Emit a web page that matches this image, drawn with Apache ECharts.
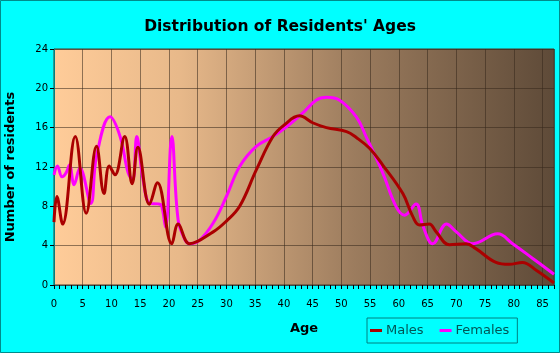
<!DOCTYPE html>
<html>
<head>
<meta charset="utf-8">
<script src="https://cdn.jsdelivr.net/npm/echarts@6/dist/echarts.min.js"></script>
<style>
  html, body { margin: 0; padding: 0; background: #00ffff; }
  #chart { width: 560px; height: 353px; }
</style>
</head>
<body>
<div id="chart"></div>
<script>
// values, [age, residents]
var maleAges = [0, 0.5, 1.5, 3.7, 5.6, 7.4, 8.7, 9.6, 10.6, 12.3, 13.6, 14.6, 16.6, 18, 20.5, 21.6, 23.6,
  27.7, 30, 32.3, 35.2, 38.1, 40.1, 42.7, 45, 47.4, 50.9, 52.6, 54.9, 57.2, 60.7, 62.4, 63.6, 65.3, 66.5,
  68.8, 71.7, 73.4, 76.9, 79.2, 81.5, 83.9, 87];
var males = [6.4, 9.0, 6.2, 15.1, 7.3, 14.1, 9.3, 12.1, 11.2, 15.1, 10.3, 14.0, 8.2, 10.4, 4.2, 6.2, 4.2,
  5.4, 6.5, 8.0, 11.7, 15.1, 16.3, 17.2, 16.5, 16.0, 15.6, 15.0, 13.9, 12.2, 9.3, 7.0, 6.1, 6.2, 5.4,
  4.1, 4.2, 3.7, 2.3, 2.1, 2.3, 1.5, 0.2];
var femaleAges = [0, 0.6, 1.4, 2.1, 2.7, 3.5, 4.5, 6.4, 7.4, 9.75, 11.5, 12.9, 13.7, 14.4, 15.5, 16.7, 18.1,
  18.7, 19.4, 20.5, 21.6, 22.8, 23.6, 25.4, 27.7, 30, 32.3, 35.2, 38.1, 40.4, 43.3, 45.6, 47.4, 49.7,
  52.6, 54.3, 57.2, 59.5, 61, 63, 64.2, 65.9, 68.3, 70, 72.9, 77.2, 79.8, 83.3, 87];
var females = [11.2, 12.1, 11.0, 11.4, 12.2, 10.2, 11.9, 8.3, 13.1, 17.1, 15.1, 11.4, 10.7, 15.1, 10.7, 8.3, 8.25,
  8.1, 5.9, 15.1, 6.6, 4.6, 4.2, 4.6, 6.3, 9.0, 12.05, 14.1, 15.1, 16.05, 17.5, 18.8, 19.1, 18.8,
  17.1, 15.1, 11.4, 8.0, 7.1, 8.25, 6.0, 4.2, 6.2, 5.4, 4.2, 5.2, 4.2, 2.7, 1.1];

function pairs(xs, ys) {
  return xs.map(function (x, i) { return [x, ys[i]]; });
}

var chart = echarts.init(document.getElementById('chart'));
var font = 'DejaVu Sans';
var gridColor = 'rgba(55,40,28,0.55)';

chart.setOption({
  backgroundColor: '#00ffff',
  animation: false,
  title: {
    text: "Distribution of Residents' Ages",
    left: 'center',
    top: 14,
    textStyle: { fontFamily: font, fontSize: 15.5, fontWeight: 'bold', color: '#000' }
  },
  legend: {
    left: 367,
    top: 318,
    padding: [6, 8, 6, 3],
    borderColor: '#008080',
    borderWidth: 1,
    itemGap: 16,
    itemWidth: 12,
    itemHeight: 3,
    icon: 'rect',
    textStyle: { fontFamily: font, fontSize: 13, color: '#005555', padding: [0, 0, 0, -1] },
    data: ['Males', 'Females']
  },
  grid: {
    left: 54, right: 6, top: 49, bottom: 68,
    outerBoundsMode: 'none',
    show: true,
    borderColor: '#4a3a2a',
    borderWidth: 1,
    backgroundColor: {
      type: 'linear', x: 0, y: 0, x2: 1, y2: 0,
      colorStops: [
        { offset: 0, color: '#ffcc99' },
        { offset: 0.25, color: '#e8b98a' },
        { offset: 0.6, color: '#9c7c5e' },
        { offset: 1, color: '#5e4a38' }
      ]
    }
  },
  xAxis: [{
    type: 'value', min: 0, max: 87, interval: 1,
    axisLine: { lineStyle: { color: '#2f4f4f' } },
    axisTick: { length: 4, lineStyle: { color: '#000' } },
    axisLabel: { show: false },
    splitLine: { show: false }
  }, {
    type: 'value', min: 0, max: 87, interval: 5, position: 'bottom',
    axisLine: { show: false },
    axisTick: { show: false },
    axisLabel: { fontFamily: font, fontSize: 10, color: '#000', margin: 14, showMaxLabel: false },
    splitLine: { lineStyle: { color: gridColor } },
    name: 'Age', nameLocation: 'middle', nameGap: 37,
    nameTextStyle: { fontFamily: font, fontSize: 13, fontWeight: 'bold', color: '#000' }
  }],
  yAxis: {
    type: 'value', min: 0, max: 24, interval: 4,
    axisLine: { show: true, lineStyle: { color: '#008080' } },
    axisTick: { show: true, length: 4, lineStyle: { color: '#000' } },
    axisLabel: { fontFamily: font, fontSize: 10, color: '#000', margin: 6 },
    splitLine: { lineStyle: { color: gridColor } },
    name: 'Number of residents', nameLocation: 'middle', nameGap: 37,
    nameTextStyle: { fontFamily: font, fontSize: 13, fontWeight: 'bold', color: '#000' }
  },
  series: [{
    name: 'Females', type: 'line', smooth: 0.4, showSymbol: false,
    color: '#ff00ff', lineStyle: { width: 3, color: '#ff00ff' },
    data: pairs(femaleAges, females)
  }, {
    name: 'Males', type: 'line', smooth: 0.4, showSymbol: false,
    color: '#aa0000', lineStyle: { width: 3, color: '#aa0000' },
    data: pairs(maleAges, males)
  }],
  graphic: [{
    type: 'rect', silent: true,
    shape: { x: 0.5, y: 0.5, width: 559, height: 352 },
    style: { fill: 'none', stroke: '#008b8b', lineWidth: 1 }
  }]
});
</script>
</body>
</html>
